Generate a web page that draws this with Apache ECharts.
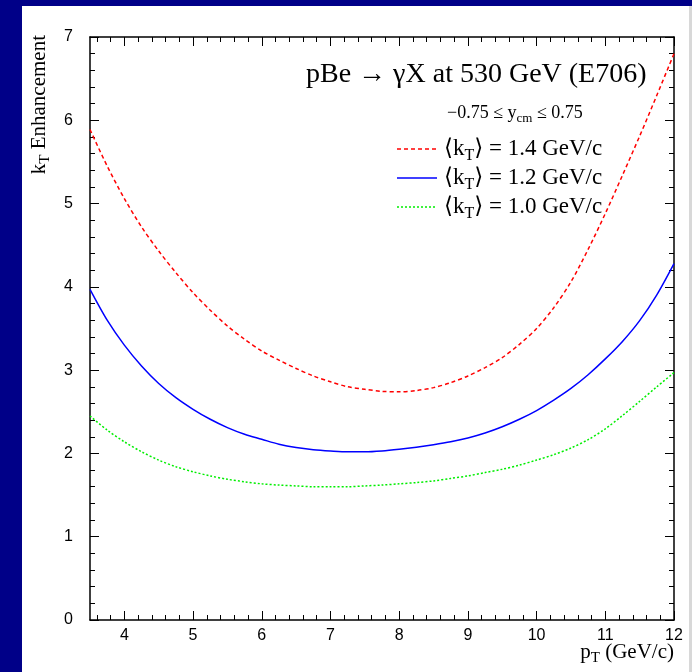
<!DOCTYPE html>
<html><head><meta charset="utf-8">
<script src="https://cdn.jsdelivr.net/npm/echarts@6/dist/echarts.min.js"></script>
<style>
html,body{margin:0;padding:0;background:#000088;}
#wrap{position:relative;width:692px;height:672px;background:#000088;overflow:hidden;}
#panel{position:absolute;left:22px;top:6px;width:667px;height:666px;background:#fff;}
#strip{position:absolute;left:689px;top:6px;width:3px;height:666px;background:#d8d8d8;}
#c{position:absolute;left:0;top:0;width:692px;height:672px;}
</style>
</head><body>
<div id="wrap"><div id="panel"></div><div id="strip"></div><div id="c"></div></div>
<script>
// ---- data ----
const pT   = [3.5, 3.75, 4.0, 4.25, 4.5, 4.75, 5.0, 5.25, 5.5, 5.75, 6.0, 6.25, 6.5, 6.75, 7.0, 7.25, 7.5, 7.75,
              8.0, 8.25, 8.5, 8.75, 9.0, 9.25, 9.5, 9.75, 10.0, 10.25, 10.5, 10.75, 11.0, 11.25, 11.5, 11.75, 12.0];
const kt14 = [5.89, 5.45, 5.06, 4.72, 4.43, 4.17, 3.93, 3.72, 3.53, 3.37, 3.23, 3.12, 3.02, 2.93, 2.86, 2.80, 2.77, 2.745,
              2.74, 2.755, 2.79, 2.85, 2.93, 3.03, 3.15, 3.31, 3.50, 3.75, 4.06, 4.45, 4.88, 5.34, 5.81, 6.30, 6.80];
const kt12 = [3.97, 3.60, 3.30, 3.05, 2.84, 2.67, 2.53, 2.41, 2.31, 2.23, 2.17, 2.11, 2.07, 2.045, 2.03, 2.02, 2.02, 2.03,
              2.05, 2.075, 2.105, 2.14, 2.185, 2.245, 2.32, 2.41, 2.515, 2.64, 2.78, 2.945, 3.135, 3.345, 3.595, 3.905, 4.28];
const kt10 = [2.45, 2.28, 2.14, 2.02, 1.92, 1.84, 1.78, 1.73, 1.69, 1.66, 1.635, 1.62, 1.61, 1.60, 1.60, 1.60, 1.61, 1.62,
              1.635, 1.65, 1.67, 1.70, 1.73, 1.77, 1.81, 1.86, 1.92, 1.985, 2.065, 2.165, 2.295, 2.455, 2.625, 2.80, 2.97];
const seriesNames = ['⟨k_T⟩ = 1.4 GeV/c', '⟨k_T⟩ = 1.2 GeV/c', '⟨k_T⟩ = 1.0 GeV/c'];
const xMajorTicks = [4, 5, 6, 7, 8, 9, 10, 11, 12];
const xMinorTicks = [3.6, 3.8, 4.2, 4.4, 4.6, 4.8, 5.2, 5.4, 5.6, 5.8, 6.2, 6.4, 6.6, 6.8,
  7.2, 7.4, 7.6, 7.8, 8.2, 8.4, 8.6, 8.8, 9.2, 9.4, 9.6, 9.8, 10.2, 10.4, 10.6, 10.8,
  11.2, 11.4, 11.6, 11.8];

const pair = (ys) => pT.map((x, i) => [x, ys[i]]);

const SANS = 'Liberation Sans, Arial, sans-serif';
const SERIF = 'Liberation Serif, DejaVu Serif, serif';

const baseX = (pos, extra) => Object.assign({
  type: 'value', min: 3.5, max: 12, position: pos,
  axisLine: { show: false, onZero: false },
  axisTick: { show: false },
  axisLabel: { show: false },
  splitLine: { show: false }
}, extra);

const chart = echarts.init(document.getElementById('c'), null, { renderer: 'canvas' });

const legendY = [149, 178, 207];
const styles = [
  { color: '#ff0000', width: 1.5, type: [4, 3] },
  { color: '#0000ff', width: 1.5, type: 'solid' },
  { color: '#00ee00', width: 1.5, type: [2, 2] }
];

const richMain = (size) => ({
  m: { fontFamily: SERIF, fontSize: size, color: '#000' },
  s: { fontFamily: SERIF, fontSize: Math.round(size * 0.7), color: '#000', padding: [Math.round(size * 0.6), 0, 0, 0] }
});

const graphics = [];
graphics.push({ type: 'text', x: 306, y: 75, style: { text: 'pBe → γX at 530 GeV (E706)', font: '28px ' + SERIF, fill: '#000', align: 'left', verticalAlign: 'middle' } });
graphics.push({ type: 'text', x: 447, y: 113, style: { text: '{m|−0.75 ≤ y}{s|cm}{m| ≤ 0.75}', rich: richMain(18), align: 'left', verticalAlign: 'middle' } });
seriesNames.forEach((nm, i) => {
  const parts = nm.split('_T');
  graphics.push({ type: 'line', shape: { x1: 397, y1: legendY[i], x2: 437, y2: legendY[i] }, style: { stroke: styles[i].color, lineWidth: styles[i].width, lineDash: styles[i].type === 'solid' ? null : styles[i].type } });
  graphics.push({ type: 'text', x: 444, y: legendY[i], style: { text: '{m|' + parts[0] + '}{s|T}{m|' + parts[1] + '}', rich: richMain(23), align: 'left', verticalAlign: 'middle' } });
});
graphics.push({ type: 'text', x: 674, y: 652, style: { text: '{m|p}{s|T}{m| (GeV/c)}', rich: richMain(21), align: 'right', verticalAlign: 'middle' } });
graphics.push({ type: 'text', x: 39, y: 35, rotation: Math.PI / 2, style: { text: '{m|k}{s|T}{m| Enhancement}', rich: richMain(21), align: 'right', verticalAlign: 'middle' } });

chart.setOption({
  animation: false,
  grid: { left: 90, top: 37, right: 18, bottom: 52 },
  xAxis: [
    baseX('bottom', {
      axisLine: { show: true, onZero: false, lineStyle: { color: '#000', width: 1.5 } },
      axisTick: { show: true, inside: true, length: 9, customValues: xMajorTicks, lineStyle: { color: '#000' } },
      axisLabel: { show: true, customValues: xMajorTicks, color: '#000', fontFamily: SANS, fontSize: 16, margin: 8 }
    }),
    baseX('bottom', { axisTick: { show: true, inside: true, length: 5, customValues: xMinorTicks, lineStyle: { color: '#000' } } }),
    baseX('top', {
      axisLine: { show: true, onZero: false, lineStyle: { color: '#000', width: 1.5 } },
      axisTick: { show: true, inside: true, length: 9, customValues: xMajorTicks, lineStyle: { color: '#000' } }
    }),
    baseX('top', { axisTick: { show: true, inside: true, length: 5, customValues: xMinorTicks, lineStyle: { color: '#000' } } })
  ],
  yAxis: [
    {
      type: 'value', min: 0, max: 7, interval: 1, position: 'left',
      axisLine: { show: true, onZero: false, lineStyle: { color: '#000', width: 1.5 } },
      axisTick: { show: true, inside: true, length: 9, lineStyle: { color: '#000' } },
      minorTick: { show: true, splitNumber: 5, length: 5, lineStyle: { color: '#000' } },
      axisLabel: { color: '#000', fontFamily: SANS, fontSize: 16, margin: 17 },
      splitLine: { show: false }, minorSplitLine: { show: false }
    },
    {
      type: 'value', min: 0, max: 7, interval: 1, position: 'right',
      axisLine: { show: true, onZero: false, lineStyle: { color: '#000', width: 1.5 } },
      axisTick: { show: true, inside: true, length: 9, lineStyle: { color: '#000' } },
      minorTick: { show: true, splitNumber: 5, length: 5, lineStyle: { color: '#000' } },
      axisLabel: { show: false },
      splitLine: { show: false }, minorSplitLine: { show: false }
    }
  ],
  series: [kt14, kt12, kt10].map((ys, i) => ({
    name: seriesNames[i], type: 'line', xAxisIndex: 0, yAxisIndex: 0,
    data: pair(ys), smooth: 0.3, showSymbol: false, symbol: 'none',
    lineStyle: styles[i], clip: true
  })),
  graphic: graphics
});
</script>
</body></html>
